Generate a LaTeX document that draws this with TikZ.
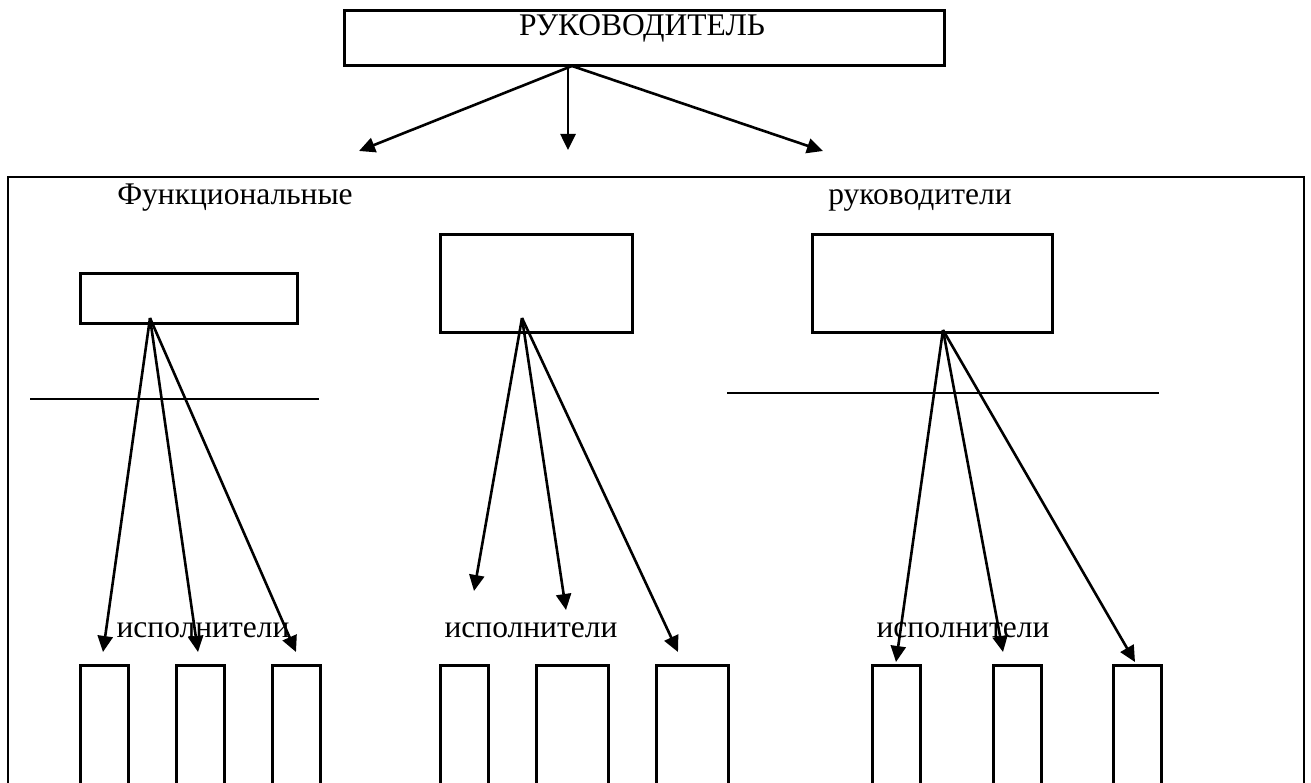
\documentclass[tikz,border=0pt]{standalone}
\usepackage{fontspec}
\setmainfont{Liberation Serif}
\usetikzlibrary{arrows.meta}

\tikzset{
  box/.style={draw, line width=2.6pt, inner sep=0pt, anchor=north west},
  txt/.style={anchor=base, inner sep=0pt, font=\fontsize{31.5}{36}\selectfont},
  link/.style={line width=2.6pt, -{Triangle[length=16pt, width=15pt]}},
}

\begin{document}
\begin{tikzpicture}[x=1pt, y=-1pt]

    % Page
    \useasboundingbox (0,0) rectangle (1311,783);
    \clip (0,0) rectangle (1311,783);

    % Head
    \node[box, minimum width=600, minimum height=55] (boss) at (343,9) {};
    \node[txt] (bossname) at (642,36) {РУКОВОДИТЕЛЬ};
    \coordinate (bossfoot) at (572,66);
    \coordinate (bossmid) at (568,64);

    % Head arrows
    \coordinate (toL) at (359,151);
    \coordinate (toM) at (568,150);
    \coordinate (toR) at (823,151);
    \draw[link] (bossfoot) -- (toL);
    \draw[link] (bossmid) -- (toM);
    \draw[link] (bossfoot) -- (toR);

    % Frame with the functional managers
    \draw[line width=2.6pt] (8,177) rectangle (1304,820);
    \node[txt] (funcname) at (235,205) {Функциональные};
    \node[txt] (headname) at (920,205) {руководители};

    \node[box, minimum width=217, minimum height=50] (funcA) at (79,272) {};
    \node[box, minimum width=192, minimum height=98] (funcB) at (439,233) {};
    \node[box, minimum width=240, minimum height=98] (funcC) at (811,233) {};

    \draw[line width=2pt] (30,399) -- (319,399);
    \draw[line width=2pt] (727,393) -- (1159,393);

    % Executors
    \node[box, minimum width=48, minimum height=160] (workA1) at (79,664) {};
    \node[box, minimum width=48, minimum height=160] (workA2) at (175,664) {};
    \node[box, minimum width=48, minimum height=160] (workA3) at (271,664) {};

    \node[box, minimum width=48, minimum height=160] (workB1) at (439,664) {};
    \node[box, minimum width=72, minimum height=160] (workB2) at (535,664) {};
    \node[box, minimum width=72, minimum height=160] (workB3) at (655,664) {};

    \node[box, minimum width=48, minimum height=160] (workC1) at (871,664) {};
    \node[box, minimum width=48, minimum height=160] (workC2) at (992,664) {};
    \node[box, minimum width=48, minimum height=160] (workC3) at (1112,664) {};

    \node[txt] (execA) at (203,637) {исполнители};
    \node[txt] (execB) at (531,637) {исполнители};
    \node[txt] (execC) at (963,637) {исполнители};

    % Arrows from the first manager
    \coordinate (footA) at (150,318);
    \coordinate (tipA1) at (103,652);
    \coordinate (tipA2) at (198,652);
    \coordinate (tipA3) at (296,652);
    \draw[link] (footA) -- (tipA1);
    \draw[link] (footA) -- (tipA2);
    \draw[link] (footA) -- (tipA3);

    % Arrows from the second manager
    \coordinate (footB) at (522,318);
    \coordinate (tipB1) at (474,591);
    \coordinate (tipB2) at (566,610);
    \coordinate (tipB3) at (678,652);
    \draw[link] (footB) -- (tipB1);
    \draw[link] (footB) -- (tipB2);
    \draw[link] (footB) -- (tipB3);

    % Arrows from the third manager
    \coordinate (footC) at (943,330);
    \coordinate (tipC1) at (896,662);
    \coordinate (tipC2) at (1003,652);
    \coordinate (tipC3) at (1135,662);
    \draw[link] (footC) -- (tipC1);
    \draw[link] (footC) -- (tipC2);
    \draw[link] (footC) -- (tipC3);

\end{tikzpicture}
\end{document}
